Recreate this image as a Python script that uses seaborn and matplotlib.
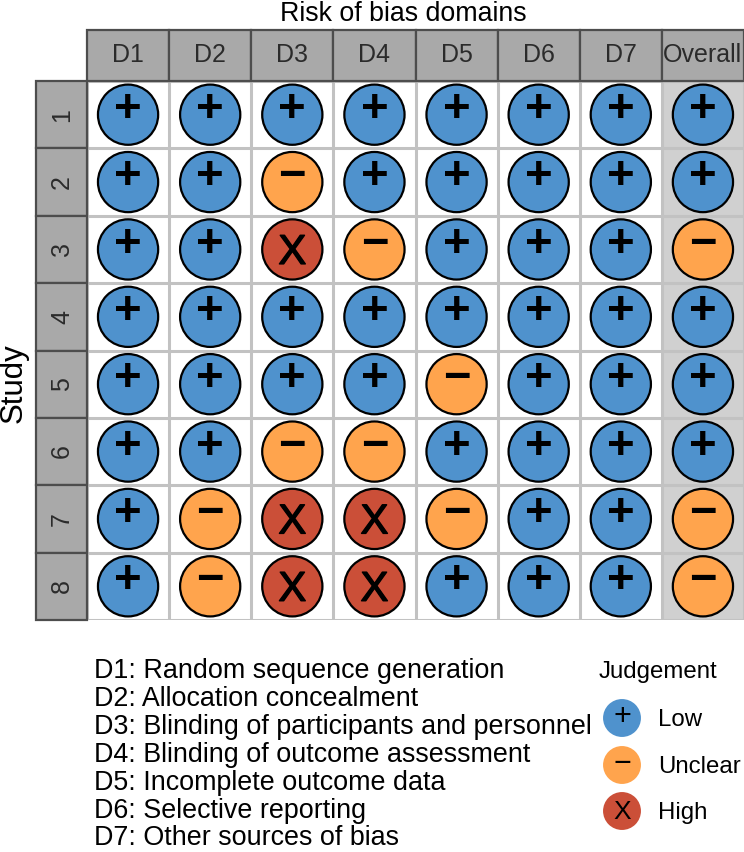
import matplotlib
matplotlib.use("Agg")
import matplotlib.pyplot as plt
import matplotlib.patheffects as pe
from matplotlib.patches import Rectangle
import pandas as pd
import seaborn as sns

sns.set_theme(style="white")
plt.rcParams['font.family'] = ['Liberation Sans', 'DejaVu Sans']

domains = ["D1", "D2", "D3", "D4", "D5", "D6", "D7", "Overall"]
studies = ["1", "2", "3", "4", "5", "6", "7", "8"]
judgements = [
    list("++++++++"),
    list("++-+++++"),
    list("++X-+++-"),
    list("++++++++"),
    list("++++-+++"),
    list("++--++++"),
    list("+-XX-++-"),
    list("+-XX+++-"),
]
levels = ["Low", "Unclear", "High"]
level_codes = ["+", "-", "X"]
level_colors = ["#4F92CD", "#FFA44D", "#CB4F38"]
notes = [
    "D1: Random sequence generation",
    "D2: Allocation concealment",
    "D3: Blinding of participants and personnel",
    "D4: Blinding of outcome assessment",
    "D5: Incomplete outcome data",
    "D6: Selective reporting",
    "D7: Other sources of bias",
]
note_base = [678, 706, 734, 762, 790, 818, 845]

W, H = 744, 852
L, R, T, B = 87, 744, 81, 620
fig = plt.figure(figsize=(W / 100, H / 100), dpi=100, facecolor="white")
ax = fig.add_axes([L / W, 1 - B / H, (R - L) / W, (B - T) / H])

rows = []
for si, s in enumerate(studies):
    for di, d in enumerate(domains):
        rows.append({"x": di, "y": si, "code": judgements[si][di]})
df = pd.DataFrame(rows)

ax.set_xlim(-0.5, 7.5)
ax.set_ylim(7.5, -0.5)
ax.add_patch(Rectangle((6.5, -0.5), 1, 8, fc="#D0D0D0", ec="none", zorder=0))
for k in range(9):
    ax.axvline(k - 0.5, color="#C2C2C2", lw=2.2, zorder=1, clip_on=True)
    ax.axhline(k - 0.5, color="#C2C2C2", lw=2.2, zorder=1, clip_on=True)

sns.scatterplot(data=df, x="x", y="y", hue="code", hue_order=level_codes,
                palette=level_colors, s=1880, edgecolor="black", linewidth=1.6,
                legend=False, ax=ax, zorder=3, clip_on=False)

SYM = {"+": ("+", 34, 3.5, "bold", 0), "-": ("\u2212", 34, 3.5, "bold", 0), "X": ("X", 30, -2.5, "normal", 1.0)}
for _, r in df.iterrows():
    glyph, size, dy, weight, stroke = SYM[r["code"]]
    t = ax.annotate(glyph, (r["x"], r["y"]), xytext=(0, dy), textcoords="offset points",
                    ha="center", va="center", fontsize=size, color="black", zorder=4,
                    fontweight=weight)
    if stroke:
        t.set_path_effects([pe.withStroke(linewidth=stroke, foreground="black")])
ax.set_xlabel(""); ax.set_ylabel("")
ax.set_xticks([]); ax.set_yticks([])
for sp in ax.spines.values():
    sp.set_visible(False)

# Strips
STRIP = "#A9A9A9"; EDGE = "#4D4D4D"
col_w = (R - L) / 8; row_h = (B - T) / 8
for i, d in enumerate(domains):
    x0 = L + i * col_w
    fig.add_artist(Rectangle((x0 / W, 1 - T / H), col_w / W, 51 / H, transform=fig.transFigure,
                             fc=STRIP, ec=EDGE, lw=1.6))
    fig.text((x0 + col_w / 2) / W, 1 - 55 / H, d, ha="center", va="center",
             fontsize=18, color="#2B2B2B")
for i, s in enumerate(studies):
    y0 = T + (i + 1) * row_h
    fig.add_artist(Rectangle((36 / W, 1 - y0 / H), 51 / W, row_h / H, transform=fig.transFigure,
                             fc=STRIP, ec=EDGE, lw=1.6))
    fig.text(62 / W, 1 - (y0 - row_h / 2) / H, s, rotation=90, ha="center", va="center",
             fontsize=18, color="#2B2B2B")

fig.text(403 / W, 1 - 21 / H, "Risk of bias domains", ha="center", va="baseline", fontsize=19.3, color="black")
fig.text(14 / W, 1 - 383 / H, "Study", rotation=90, ha="center", va="center", fontsize=22.5, color="black")

for txt, y in zip(notes, note_base):
    fig.text(94 / W, 1 - y / H, txt, ha="left", va="baseline", fontsize=19.4, color="black")

# Legend
lax = fig.add_axes([590 / W, 1 - 840 / H, 154 / W, 190 / H])
lax.set_xlim(590, 744); lax.set_ylim(840, 650)
lax.axis("off")
leg = pd.DataFrame({"x": [622] * 3, "y": [718, 765, 811], "level": levels})
sns.scatterplot(data=leg, x="x", y="y", hue="level", hue_order=levels, palette=level_colors,
                s=745, edgecolor="none", linewidth=0, legend=False, ax=lax, clip_on=False)
LSYM = {"Low": ("+", 22, 0.8), "Unclear": ("\u2212", 22, 1.0), "High": ("X", 19, -1)}
for _, r in leg.iterrows():
    glyph, size, dy = LSYM[r["level"]]
    lax.annotate(glyph, (r["x"], r["y"]), xytext=(0, dy), textcoords="offset points",
                 ha="center", va="center", fontsize=size, color="black")
    lax.text(658, r["y"] + 8, r["level"], ha="left", va="baseline", fontsize=17.3, color="black")
lax.text(599, 678, "Judgement", ha="left", va="baseline", fontsize=17.3, color="black")
lax.set_xlabel(""); lax.set_ylabel("")

fig.savefig("out.png", dpi=100)
